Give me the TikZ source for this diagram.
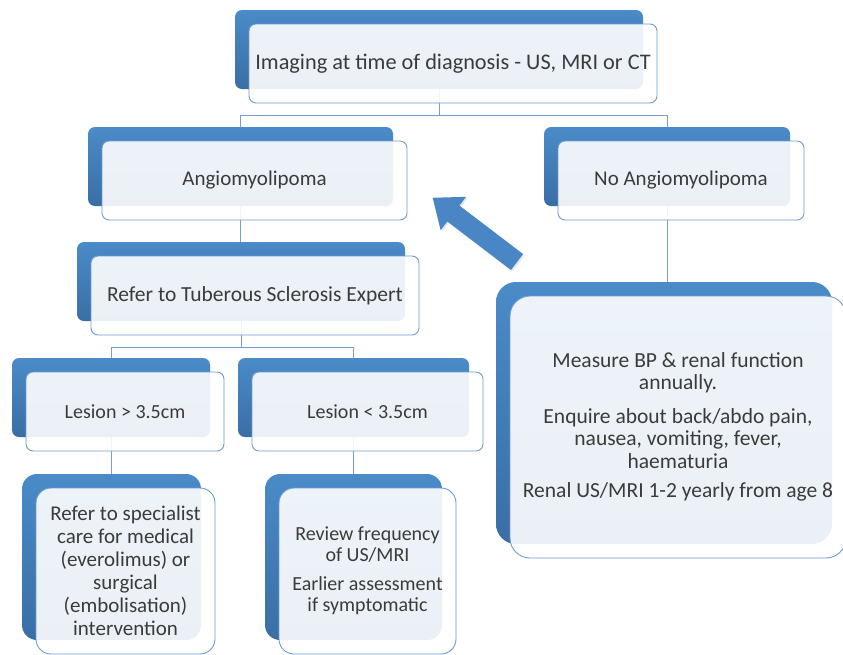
\documentclass[tikz,border=0pt]{standalone}
\usepackage{fontspec}
\setmainfont{Carlito}
\usetikzlibrary{positioning,shadows,backgrounds}

\definecolor{tabblue}{HTML}{4A8BC8}
\definecolor{tabdark}{HTML}{3A6EA5}
\definecolor{edgeblue}{HTML}{6E9BD0}
\definecolor{linkblue}{HTML}{7A9CC8}
\definecolor{textgray}{HTML}{3B3B3B}
\definecolor{arrowblue}{HTML}{4A86C6}

\tikzset{
  card/.style={draw=edgeblue, line width=0.9pt, fill=white, fill opacity=0.9, text opacity=1,
    rounded corners=7pt, text=textgray, align=center, inner sep=0pt,
    copy shadow={shadow xshift=-14pt, shadow yshift=14pt, draw=none, fill opacity=1,
      top color=tabblue, bottom color=tabdark}},
  tallcard/.style={card, rounded corners=15pt},
  link/.style={draw=linkblue, line width=0.8pt},
}

\begin{document}
\begin{tikzpicture}[x=1pt, y=-1pt, node distance=0pt, on grid, font=\fontsize{21}{23}\selectfont]
    \useasboundingbox (0,0) rectangle (843,654);
    \node [card, minimum width=408pt, minimum height=79pt, font=\fontsize{22.3}{23}\selectfont] (top) at (453,63.5) {Imaging at time of diagnosis - US, MRI or CT};
    \node [card, right=of top, xshift=-198.5pt, yshift=-117pt, minimum width=305pt, minimum height=79pt] (angio) {Angiomyolipoma};
    \node [card, right=of top, xshift=228pt, yshift=-117pt, minimum width=246pt, minimum height=79pt] (noangio) {No Angiomyolipoma};
    \node [card, right=of top, xshift=-198pt, yshift=-232pt, minimum width=328pt, minimum height=79pt, font=\fontsize{21.5}{23}\selectfont] (tse) {Refer to Tuberous Sclerosis Expert};
    \node [card, right=of top, xshift=-328pt, yshift=-348pt, minimum width=198pt, minimum height=79pt, font=\fontsize{20}{23}\selectfont] (big) {Lesion > 3.5cm};
    \node [card, right=of top, xshift=-85.5pt, yshift=-348pt, minimum width=231pt, minimum height=79pt, font=\fontsize{20}{23}\selectfont] (small) {Lesion < 3.5cm};
    \node [tallcard, right=of top, xshift=-327.5pt, yshift=-507.5pt, minimum width=179pt, minimum height=166pt] (surgery) {Refer to specialist\\care for medical\\(everolimus) or\\surgical\\(embolisation)\\intervention};
    \node [tallcard, right=of top, xshift=-85.5pt, yshift=-507.5pt, minimum width=177pt, minimum height=166pt, font=\fontsize{20}{21}\selectfont] (review) {Review frequency\\of US/MRI\\[8pt]Earlier assessment\\if symptomatic};
    \node [card, rounded corners=20pt, right=of top, xshift=225pt, yshift=-363.5pt, minimum width=336pt, minimum height=262pt, font=\fontsize{21.5}{22.5}\selectfont] (monitor) {Measure BP \& renal function\\annually.\\[11pt]Enquire about back/abdo pain,\\nausea, vomiting, fever,\\haematuria\\[7pt]Renal US/MRI 1-2 yearly from age 8};

    % connectors behind the cards
    \begin{scope}[on background layer]
    \draw [link] ([xshift=-14pt]top.center) |- ([yshift=-12pt]top.south) -| ([xshift=-14pt]angio.center);
    \draw [link] ([xshift=-14pt]top.center) |- ([yshift=-12pt]top.south) -| ([xshift=-14pt]noangio.center);
    \draw [link] ([xshift=-14pt]angio.center) |- (tse.center);
    \draw [link] ([xshift=-14pt]tse.center) |- ([yshift=-12pt]tse.south) -| ([xshift=-14pt]big.center);
    \draw [link] ([xshift=-14pt]tse.center) |- ([yshift=-12pt]tse.south) -| ([xshift=-14pt]small.center);
    \draw [link] ([xshift=-14pt]big.center) |- (surgery.center);
    \draw [link] ([xshift=-14pt]small.center) |- (review.center);
    \draw [link] ([xshift=-14pt]noangio.center) |- (monitor.center);
    \end{scope}

    % big arrow
    \begin{scope}[shift={(517,262)}, rotate=142.7]
    \fill [arrowblue, drop shadow={opacity=0.2, shadow xshift=1.5pt, shadow yshift=-1.5pt}]
        (0,-10) -- (80,-10) -- (80,-21) -- (106,0) -- (80,21) -- (80,10) -- (0,10) -- cycle;
    \end{scope}
\end{tikzpicture}
\end{document}
